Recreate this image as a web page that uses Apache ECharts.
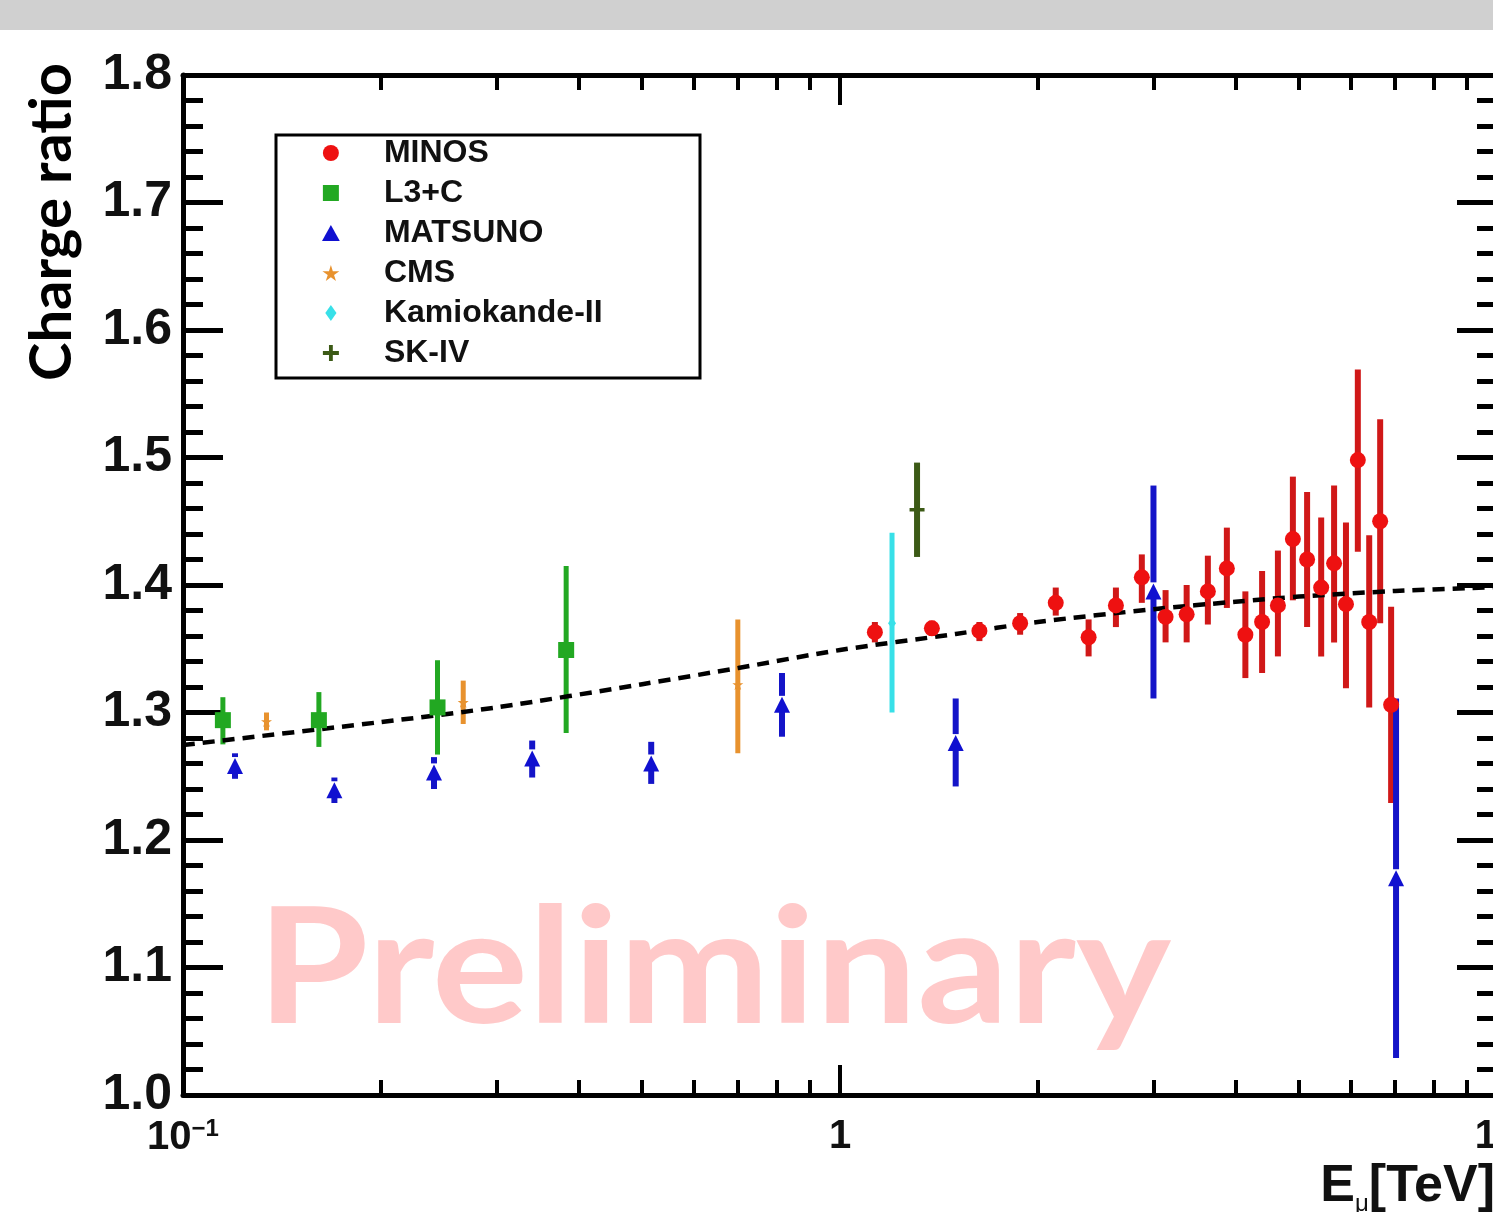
<!DOCTYPE html>
<html>
<head>
<meta charset="utf-8">
<title>Muon charge ratio</title>
<script src="https://cdn.jsdelivr.net/npm/echarts@6/dist/echarts.min.js"></script>
<style>
  html, body { margin: 0; padding: 0; background: #fff; }
  #chart { width: 1493px; height: 1212px; }
</style>
</head>
<body>
<div id="chart"></div>
<script>
// E in TeV; R = charge ratio; lo/hi = ends of the error bar
const minosE = [1.13, 1.38, 1.63, 1.88, 2.13, 2.39, 2.63, 2.88, 3.13, 3.37, 3.63, 3.88, 4.14, 4.39, 4.64, 4.89, 5.14, 5.40, 5.65, 5.89, 6.14, 6.39, 6.64, 6.90]
const minosR = [1.363, 1.366, 1.364, 1.370, 1.386, 1.359, 1.384, 1.406, 1.375, 1.377, 1.395, 1.413, 1.361, 1.371, 1.384, 1.436, 1.420, 1.398, 1.417, 1.385, 1.498, 1.371, 1.450, 1.306]
const minosLo = [1.355, 1.360, 1.356, 1.361, 1.376, 1.344, 1.367, 1.386, 1.355, 1.355, 1.369, 1.382, 1.327, 1.331, 1.344, 1.388, 1.367, 1.344, 1.355, 1.319, 1.426, 1.304, 1.370, 1.229]
const minosHi = [1.371, 1.372, 1.371, 1.378, 1.398, 1.373, 1.398, 1.424, 1.396, 1.400, 1.423, 1.445, 1.395, 1.411, 1.427, 1.485, 1.473, 1.453, 1.478, 1.449, 1.569, 1.439, 1.530, 1.383]

const l3cE = [0.115, 0.161, 0.244, 0.383]
const l3cR = [1.294, 1.294, 1.304, 1.349]
const l3cLo = [1.275, 1.273, 1.267, 1.284]
const l3cHi = [1.312, 1.316, 1.341, 1.415]

const matsunoE = [0.120, 0.170, 0.241, 0.340, 0.516, 0.816, 1.50, 3.00, 7.02]
const matsunoR = [1.258, 1.239, 1.253, 1.264, 1.260, 1.306, 1.276, 1.395, 1.170]
const matsunoLo = [1.248, 1.229, 1.240, 1.249, 1.244, 1.281, 1.242, 1.311, 1.029]
const matsunoHi = [1.268, 1.249, 1.265, 1.278, 1.277, 1.331, 1.311, 1.478, 1.311]

const cmsE = [0.134, 0.267, 0.699]
const cmsR = [1.293, 1.308, 1.322]
const cmsLo = [1.286, 1.291, 1.268]
const cmsHi = [1.300, 1.325, 1.373]

const kamE = [1.20]
const kamR = [1.370]
const kamLo = [1.300]
const kamHi = [1.441]

const skE = [1.31]
const skR = [1.459]
const skLo = [1.422]
const skHi = [1.496]

// model curve (dashed)
const modelE = [0.1, 0.2, 0.3, 0.5, 0.7, 1, 1.5, 2, 3, 4, 5, 7, 10]
const modelR = [1.2745, 1.2925, 1.304, 1.3222, 1.3349, 1.349, 1.3616, 1.371, 1.381, 1.3869, 1.3909, 1.3953, 1.3984]

const xMajorTicks = [0.1, 1, 10]
const xMinorTicks = [0.2, 0.3, 0.4, 0.5, 0.6, 0.7, 0.8, 0.9, 2, 3, 4, 5, 6, 7, 8, 9]

const AXIS_FONT = 'Liberation Sans, Arial, sans-serif'
const TITLE_FONT = 'Lato, sans-serif'

const points = (E, R) => E.map((e, i) => [e, R[i]])
const bars = (E, R, lo, hi) => E.map((e, i) => [e, lo[i], hi[i], R[i]])

function errorBars(name, color, width, data, gap) {
  return {
    name, type: 'custom', z: 2, data,
    encode: { x: 0, y: [1, 2] },
    renderItem(params, api) {
      const x = api.value(0)
      const pLo = api.coord([x, api.value(1)])
      const pHi = api.coord([x, api.value(2)])
      const style = { stroke: color, lineWidth: width }
      if (!gap) {
        return { type: 'line', shape: { x1: pLo[0], y1: pLo[1], x2: pHi[0], y2: pHi[1] }, style }
      }
      const pc = api.coord([x, api.value(3)])
      return {
        type: 'group',
        children: [
          { type: 'line', shape: { x1: pHi[0], y1: pHi[1], x2: pc[0], y2: pc[1] - gap }, style },
          { type: 'line', shape: { x1: pc[0], y1: pc[1], x2: pLo[0], y2: pLo[1] }, style }
        ]
      }
    }
  }
}

function markers(name, symbol, size, color, data) {
  return { name, type: 'scatter', z: 4, symbol, symbolSize: size, itemStyle: { color, opacity: 1 }, data }
}

const STAR = 'path://M50,0 L61,35 L98,35 L68,57 L79,91 L50,70 L21,91 L32,57 L2,35 L39,35 Z'
const CROSS = 'path://M38,0 H62 V38 H100 V62 H62 V100 H38 V62 H0 V38 H38 Z'
const SQUARE = 'path://M0,0 H100 V100 H0 Z'
const TRIANGLE = 'path://M50,0 L100,90 L0,90 Z'
const DIAMOND = 'path://M35,0 L70,50 L35,100 L0,50 Z'

const chart = echarts.init(document.getElementById('chart'))

const xBase = {
  type: 'log', logBase: 10, min: 0.1, max: 10, gridIndex: 0,
  splitLine: { show: false }
}
const yBase = {
  type: 'value', min: 1.0, max: 1.8, interval: 0.1,
  axisLine: { show: true, lineStyle: { color: '#000', width: 5 } },
  axisTick: { show: true, inside: true, length: 40, lineStyle: { color: '#000', width: 5 } },
  minorTick: { show: true, splitNumber: 5, length: 20, lineStyle: { color: '#000', width: 5 } },
  splitLine: { show: false },
  minorSplitLine: { show: false }
}

chart.setOption({
  animation: false,
  backgroundColor: '#fff',
  grid: { left: 183, top: 75, width: 1314, height: 1020, outerBoundsMode: 'none', containLabel: false },
  xAxis: [
    Object.assign({}, xBase, {
      position: 'bottom',
      axisLine: { show: true, lineStyle: { color: '#000', width: 5 } },
      axisTick: { show: true, inside: true, length: 30, customValues: xMajorTicks, lineStyle: { color: '#000', width: 4 } },
      axisLabel: {
        show: true, margin: 22, color: '#111',
        fontFamily: AXIS_FONT, fontWeight: 'bold', fontSize: 40,
        formatter: v => (v < 0.5 ? '{b|10}{s|\u22121}' : (v < 5 ? '1' : '10')),
        rich: {
          b: { fontFamily: AXIS_FONT, fontWeight: 'bold', fontSize: 40, color: '#111' },
          s: { fontFamily: AXIS_FONT, fontWeight: 'bold', fontSize: 24, color: '#111', verticalAlign: 'top', padding: [0, 0, 18, 0] }
        }
      }
    }),
    Object.assign({}, xBase, {
      position: 'bottom',
      axisLine: { show: false },
      axisTick: { show: true, inside: true, length: 15, customValues: xMinorTicks, lineStyle: { color: '#000', width: 4 } },
      axisLabel: { show: false }
    }),
    Object.assign({}, xBase, {
      position: 'top',
      axisLine: { show: true, lineStyle: { color: '#000', width: 5 } },
      axisTick: { show: true, inside: true, length: 30, customValues: xMajorTicks, lineStyle: { color: '#000', width: 4 } },
      axisLabel: { show: false }
    }),
    Object.assign({}, xBase, {
      position: 'top',
      axisLine: { show: false },
      axisTick: { show: true, inside: true, length: 15, customValues: xMinorTicks, lineStyle: { color: '#000', width: 4 } },
      axisLabel: { show: false }
    })
  ],
  yAxis: [
    Object.assign({}, yBase, {
      position: 'left',
      axisLabel: {
        show: true, margin: 11, color: '#111',
        fontFamily: AXIS_FONT, fontWeight: 'bold', fontSize: 50,
        formatter: v => v.toFixed(1)
      }
    }),
    Object.assign({}, yBase, { position: 'right', axisLabel: { show: false } })
  ],
  legend: {
    orient: 'vertical', left: 322, top: 133, padding: 0,
    itemWidth: 96, itemHeight: 16, itemGap: 0,
    selectedMode: false, z: 6,
    textStyle: { fontFamily: AXIS_FONT, fontWeight: 'bold', fontSize: 32, color: '#111', lineHeight: 40 },
    data: [
      { name: 'MINOS', icon: 'circle' },
      { name: 'L3+C', icon: SQUARE },
      { name: 'MATSUNO', icon: TRIANGLE },
      { name: 'CMS', icon: STAR },
      { name: 'Kamiokande-II', icon: DIAMOND },
      { name: 'SK-IV', icon: CROSS }
    ]
  },
  graphic: [
    { type: 'rect', z: 0, shape: { x: 0, y: 0, width: 1493, height: 30 }, style: { fill: '#d0d0d0' } },
    {
      type: 'text', z: 1, x: 257, y: 1052, scaleX: 1.12,
      style: { text: 'Preliminary', font: 'bold 161px Lato, sans-serif', fill: '#ffc9c9', align: 'left', verticalAlign: 'bottom' }
    },
    {
      type: 'text', z: 5, x: 52, y: 222, rotation: Math.PI / 2,
      style: { text: 'Charge ratio', font: 'bold 58px ' + TITLE_FONT, fill: '#000', align: 'center', verticalAlign: 'middle' }
    },
    {
      type: 'text', z: 5, x: 1495, y: 1158,
      style: {
        text: '{b|E}{u|\u03bc}{b|[TeV]}', align: 'right', verticalAlign: 'top',
        rich: {
          b: { fontFamily: AXIS_FONT, fontWeight: 'bold', fontSize: 52, lineHeight: 58, fill: '#111' },
          u: { fontFamily: AXIS_FONT, fontSize: 24, lineHeight: 58, fill: '#111', verticalAlign: 'bottom' }
        }
      }
    },
    { type: 'rect', z: 3, shape: { x: 276, y: 135, width: 424, height: 243 }, style: { fill: '#fff', stroke: '#000', lineWidth: 3 } }
  ],
  series: [
    markers('MINOS', 'circle', 16, '#ee1111', points(minosE, minosR)),
    markers('L3+C', 'rect', 16, '#22a822', points(l3cE, l3cR)),
    markers('MATSUNO', 'triangle', 16, '#1010d0', points(matsunoE, matsunoR)),
    markers('CMS', STAR, 11, '#e8922e', points(cmsE, cmsR)),
    markers('Kamiokande-II', 'diamond', [8, 11], '#38e0e8', points(kamE, kamR)),
    markers('SK-IV', CROSS, 15, '#3c5a16', points(skE, skR)),
    errorBars('MINOS', '#d01818', 6, bars(minosE, minosR, minosLo, minosHi)),
    errorBars('L3+C', '#22a822', 5, bars(l3cE, l3cR, l3cLo, l3cHi)),
    errorBars('MATSUNO', '#1414c8', 6, bars(matsunoE, matsunoR, matsunoLo, matsunoHi), 9),
    errorBars('CMS', '#e8922e', 5, bars(cmsE, cmsR, cmsLo, cmsHi)),
    errorBars('Kamiokande-II', '#38e0e8', 5, bars(kamE, kamR, kamLo, kamHi)),
    errorBars('SK-IV', '#3c5a16', 6, bars(skE, skR, skLo, skHi)),
    {
      name: 'model', type: 'line', z: 3, symbol: 'none', smooth: 0.3,
      lineStyle: { color: '#000', width: 4.5, type: [12, 8] },
      data: points(modelE, modelR)
    }
  ]
})

window.addEventListener('resize', () => chart.resize())
</script>
</body>
</html>
